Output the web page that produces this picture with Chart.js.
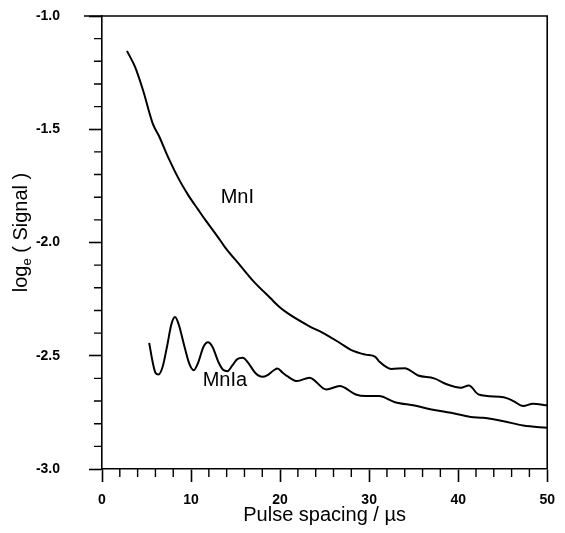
<!DOCTYPE html>
<html lang="en">
<head>
  <meta charset="UTF-8" />
  <title>MnI signal vs pulse spacing</title>
  <script src="https://cdn.jsdelivr.net/npm/chart.js"></script>
  <style>
    body {
      margin: 0;
      background: #fff;
    }

    .wrap {
      width: 565px;
      height: 533px;
      position: relative;
    }
  </style>
</head>
<body>
  <div class="wrap"><canvas id="signalChart"></canvas></div>

  <script>
    // MnI curve (upper)
    const mniX = [2.8, 3.7, 4.6, 5.7, 6.4, 7.5, 8.6, 9.7, 10.8, 11.6, 13.0, 13.8, 15.6, 17.1, 18.9, 19.8,
                  20.8, 23.3, 24.8, 26.7, 28.0, 29.6, 30.7, 31.1, 32.5, 34.0, 35.5, 37.3, 38.8, 40.3,
                  41.2, 42.3, 45.1, 46.2, 47.3, 48.4, 50.0];
    const mniY = [-1.154, -1.224, -1.327, -1.475, -1.530, -1.630, -1.718, -1.792, -1.855, -1.900, -1.975,
                  -2.020, -2.105, -2.175, -2.245, -2.280, -2.311, -2.370, -2.399, -2.443, -2.475, -2.495,
                  -2.505, -2.524, -2.558, -2.555, -2.587, -2.600, -2.627, -2.641, -2.631, -2.671, -2.683,
                  -2.700, -2.722, -2.712, -2.719];

    // MnIa curve (lower, oscillating)
    const mniaX = [5.3, 5.7, 6.0, 6.35, 6.8, 7.3, 7.8, 8.2, 8.6, 9.2, 9.8, 10.3, 10.8, 11.4, 11.9, 12.4,
                   13.1, 13.6, 14.1, 14.6, 15.2, 15.8, 16.4, 17.2, 18.0, 18.6, 19.3, 19.7, 20.3, 20.8,
                   21.9, 23.3, 25.2, 26.7, 28.5, 29.6, 31.1, 32.9, 35.1, 37.0, 39.2, 41.4, 42.8, 45.1,
                   47.3, 50.0];
    const mniaY = [-2.443, -2.530, -2.575, -2.583, -2.550, -2.460, -2.360, -2.329, -2.360, -2.450, -2.535,
                   -2.564, -2.530, -2.460, -2.440, -2.460, -2.530, -2.562, -2.568, -2.545, -2.515, -2.509,
                   -2.530, -2.575, -2.593, -2.585, -2.564, -2.556, -2.575, -2.590, -2.612, -2.597, -2.649,
                   -2.634, -2.671, -2.678, -2.678, -2.705, -2.720, -2.737, -2.752, -2.770, -2.774, -2.789,
                   -2.808, -2.818];

    const curveNames = ['MnI', 'MnIa'];
    const xTitle = 'Pulse spacing / µs';

    const toPoints = (xs, ys) => xs.map((x, i) => ({ x: x, y: ys[i] }));

    const FONT = '"Liberation Sans", Arial, sans-serif';

    // frame, minor ticks, curve names and the y title with its subscript
    const extrasPlugin = {
      id: 'extras',
      afterDraw(chart) {
        const { ctx, chartArea: a } = chart;
        const xs = chart.scales.x;
        const ys = chart.scales.y;
        ctx.save();
        ctx.strokeStyle = '#000';
        ctx.lineWidth = 1.6;
        ctx.beginPath();
        ctx.moveTo(a.left - 18, a.top);
        ctx.lineTo(a.right, a.top);
        ctx.lineTo(a.right, a.bottom);
        ctx.stroke();

        ctx.lineWidth = 1.4;
        ctx.beginPath();
        for (let v = 2; v < 50; v += 2) {
          if (v % 10 === 0) continue;
          const px = xs.getPixelForValue(v);
          ctx.moveTo(px, a.bottom);
          ctx.lineTo(px, a.bottom + 8);
        }
        for (let i = 1; i < 20; i++) {
          if (i % 5 === 0) continue;
          const py = ys.getPixelForValue(-3 + i * 0.1);
          ctx.moveTo(a.left, py);
          ctx.lineTo(a.left - 8, py);
        }
        ctx.stroke();

        // curve names, anchored in data units
        ctx.fillStyle = '#000';
        ctx.font = '20px ' + FONT;
        ctx.textAlign = 'center';
        ctx.textBaseline = 'middle';
        ctx.fillText(curveNames[0], xs.getPixelForValue(15.2), ys.getPixelForValue(-1.80));
        ctx.fillText(curveNames[1], xs.getPixelForValue(13.8), ys.getPixelForValue(-2.61));

        // y title: log_e ( Signal )
        const big = '20px ' + FONT;
        const small = '13px ' + FONT;
        ctx.font = big;
        const w1 = ctx.measureText('log').width;
        const w3 = ctx.measureText(' ( Signal )').width;
        ctx.font = small;
        const w2 = ctx.measureText('e').width;
        const total = w1 + w2 + w3;
        ctx.translate(20, (a.top + a.bottom) / 2 - 10);
        ctx.rotate(-Math.PI / 2);
        ctx.textAlign = 'left';
        ctx.textBaseline = 'alphabetic';
        let pos = -total / 2;
        ctx.font = big;
        ctx.fillText('log', pos, 7);
        pos += w1;
        ctx.font = small;
        ctx.fillText('e', pos, 11);
        pos += w2;
        ctx.font = big;
        ctx.fillText(' ( Signal )', pos, 7);
        ctx.restore();
      }
    };

    const ctx = document.getElementById('signalChart').getContext('2d');

    new Chart(ctx, {
      type: 'line',
      data: {
        datasets: [
          {
            label: curveNames[0],
            data: toPoints(mniX, mniY),
            borderColor: '#000',
            borderWidth: 2,
            pointRadius: 0,
            cubicInterpolationMode: 'monotone',
            fill: false
          },
          {
            label: curveNames[1],
            data: toPoints(mniaX, mniaY),
            borderColor: '#000',
            borderWidth: 2,
            pointRadius: 0,
            cubicInterpolationMode: 'monotone',
            fill: false
          }
        ]
      },
      options: {
        responsive: true,
        maintainAspectRatio: false,
        animation: false,
        layout: { padding: { top: 16, right: 10, left: 0, bottom: 0 } },
        plugins: {
          legend: { display: false },
          tooltip: { enabled: false }
        },
        scales: {
          x: {
            type: 'linear',
            min: 0,
            max: 50,
            afterFit: s => { s.height = 64; },
            ticks: {
              stepSize: 10,
              color: '#000',
              padding: 10,
              maxRotation: 0,
              font: { family: FONT, size: 14, weight: 'bold' }
            },
            grid: {
              drawOnChartArea: false,
              tickLength: 13,
              tickColor: '#000',
              tickWidth: 1.6
            },
            border: { color: '#000', width: 1.6 },
            title: {
              display: true,
              text: xTitle,
              color: '#000',
              font: { family: FONT, size: 20 },
              padding: { top: 0, bottom: 6 }
            }
          },
          y: {
            min: -3,
            max: -1,
            afterFit: s => {
              s.width = 102;
              s.paddingTop = 0;
              s.paddingBottom = 0;
            },
            ticks: {
              stepSize: 0.5,
              color: '#000',
              padding: 29,
              font: { family: FONT, size: 14, weight: 'bold' },
              callback: v => v.toFixed(1)
            },
            grid: {
              drawOnChartArea: false,
              tickLength: 13,
              tickColor: '#000',
              tickWidth: 1.6
            },
            border: { color: '#000', width: 1.6 }
          }
        }
      },
      plugins: [extrasPlugin]
    });
  </script>
</body>
</html>
